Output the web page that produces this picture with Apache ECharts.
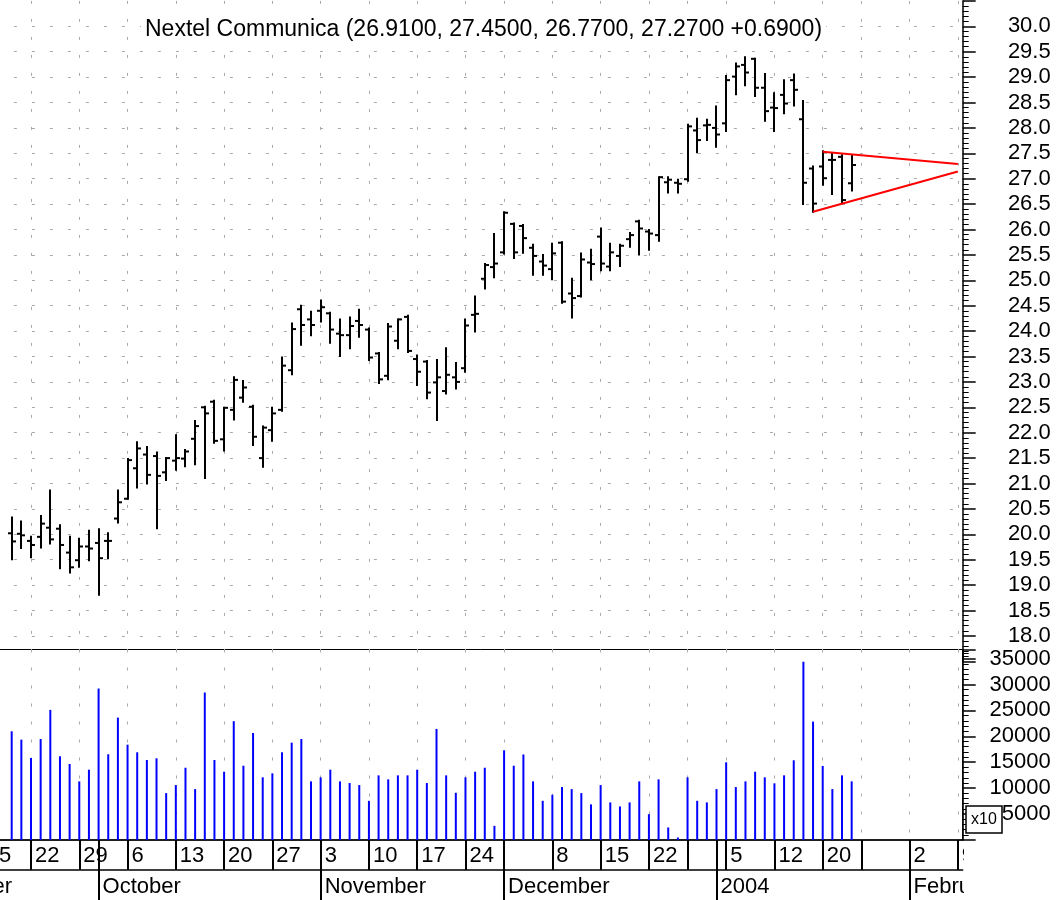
<!DOCTYPE html>
<html>
<head>
<meta charset="utf-8">
<script src="https://cdn.jsdelivr.net/npm/echarts@6/dist/echarts.min.js"></script>
<style>
  html, body { margin: 0; padding: 0; background: #fff; }
  #chart { width: 1061px; height: 900px; }
</style>
</head>
<body>
<div id="chart"></div>
<script>
  // trading days shown on the x axis
  const tradeDays = [
    '2003-09-15', '2003-09-16', '2003-09-17', '2003-09-18', '2003-09-19',
    '2003-09-22', '2003-09-23', '2003-09-24', '2003-09-25', '2003-09-26',
    '2003-09-29', '2003-09-30', '2003-10-01', '2003-10-02', '2003-10-03',
    '2003-10-06', '2003-10-07', '2003-10-08', '2003-10-09', '2003-10-10',
    '2003-10-13', '2003-10-14', '2003-10-15', '2003-10-16', '2003-10-17',
    '2003-10-20', '2003-10-21', '2003-10-22', '2003-10-23', '2003-10-24',
    '2003-10-27', '2003-10-28', '2003-10-29', '2003-10-30', '2003-10-31',
    '2003-11-03', '2003-11-04', '2003-11-05', '2003-11-06', '2003-11-07',
    '2003-11-10', '2003-11-11', '2003-11-12', '2003-11-13', '2003-11-14',
    '2003-11-17', '2003-11-18', '2003-11-19', '2003-11-20', '2003-11-21',
    '2003-11-24', '2003-11-25', '2003-11-26', '2003-11-28',
    '2003-12-01', '2003-12-02', '2003-12-03', '2003-12-04', '2003-12-05',
    '2003-12-08', '2003-12-09', '2003-12-10', '2003-12-11', '2003-12-12',
    '2003-12-15', '2003-12-16', '2003-12-17', '2003-12-18', '2003-12-19',
    '2003-12-22', '2003-12-23', '2003-12-24', '2003-12-26',
    '2003-12-29', '2003-12-30', '2003-12-31', '2004-01-02',
    '2004-01-05', '2004-01-06', '2004-01-07', '2004-01-08', '2004-01-09',
    '2004-01-12', '2004-01-13', '2004-01-14', '2004-01-15', '2004-01-16',
    '2004-01-20', '2004-01-21', '2004-01-22', '2004-01-23',
    '2004-01-26', '2004-01-27', '2004-01-28', '2004-01-29', '2004-01-30',
    '2004-02-02', '2004-02-03', '2004-02-04', '2004-02-05', '2004-02-06',
    '2004-02-09'
  ]
  const firstBar = '2003-09-18'

  // daily bars, Sep 18 2003 .. Jan 23 2004
  const open = [
    20.02, 20.01, 19.87, 19.95, 20.13, 20.11, 19.64, 19.49, 19.76, 19.83,
    19.87, 20.31, 20.70, 21.30, 21.57, 21.54, 21.22, 21.45, 21.49, 21.88,
    22.50, 22.61, 21.87, 22.45, 22.69, 22.51, 21.50, 22.05, 22.45, 23.23,
    24.43, 24.23, 24.40, 24.35, 23.95, 23.92, 24.20, 24.03, 23.56, 23.12,
    23.81, 24.28, 23.45, 23.40, 22.99, 22.82, 23.09, 23.27, 24.32, 25.03,
    25.26, 25.55, 26.11, 26.07, 25.64, 25.37, 25.22, 25.74, 24.74, 24.69,
    25.35, 25.86, 25.27, 25.48, 25.81, 26.16, 25.96, 25.89, 26.93, 26.92,
    26.99, 27.95, 28.05, 28.00, 28.09, 29.01, 29.24, 29.36, 28.79, 28.40,
    28.65, 28.94, 28.17, 27.20, 27.24, 27.37, 27.43, 26.91
  ]
  const high = [
    20.33, 20.25, 19.95, 20.36, 20.86, 20.18, 19.95, 19.91, 20.07, 20.10,
    20.02, 20.86, 21.48, 21.81, 21.72, 21.61, 21.50, 21.95, 21.66, 22.23,
    22.51, 22.63, 22.49, 23.09, 23.02, 22.53, 22.12, 22.49, 23.48, 24.15,
    24.50, 24.38, 24.60, 24.36, 24.23, 24.27, 24.42, 24.05, 23.57, 24.14,
    24.23, 24.30, 23.52, 23.41, 23.43, 23.66, 23.37, 24.23, 24.68, 25.32,
    25.91, 26.34, 26.12, 26.09, 25.70, 25.50, 25.72, 25.75, 25.03, 25.53,
    25.60, 26.02, 25.72, 25.70, 25.93, 26.17, 25.99, 27.03, 27.03, 26.98,
    28.06, 28.18, 28.16, 28.42, 29.02, 29.27, 29.39, 29.36, 29.06, 28.68,
    28.94, 29.05, 28.53, 27.24, 27.54, 27.50, 27.46, 27.45
  ]
  const low = [
    19.51, 19.73, 19.55, 19.74, 19.82, 19.33, 19.25, 19.36, 19.49, 18.81,
    19.53, 20.23, 20.70, 20.92, 21.00, 20.12, 21.07, 21.27, 21.34, 21.38,
    21.11, 21.80, 21.65, 22.26, 22.61, 21.76, 21.33, 21.84, 22.43, 23.15,
    23.73, 23.92, 24.19, 23.77, 23.51, 23.66, 23.89, 23.43, 22.98, 23.05,
    23.66, 23.59, 22.94, 22.68, 22.25, 22.77, 22.87, 23.20, 23.99, 24.84,
    25.06, 25.53, 25.44, 25.54, 25.11, 25.11, 25.02, 24.56, 24.27, 24.68,
    25.02, 25.20, 25.20, 25.28, 25.66, 25.51, 25.60, 25.78, 26.73, 26.73,
    26.96, 27.52, 27.76, 27.63, 27.94, 28.66, 28.84, 28.63, 28.14, 27.94,
    28.29, 28.44, 26.50, 26.35, 26.88, 26.70, 26.53, 26.77
  ]
  const close = [
    19.86, 19.98, 19.79, 20.21, 19.90, 19.79, 19.35, 19.76, 19.72, 19.53,
    19.87, 20.63, 21.46, 21.69, 21.17, 21.15, 21.50, 21.50, 21.63, 22.13,
    22.38, 21.84, 22.49, 23.04, 22.89, 21.92, 22.10, 22.38, 23.32, 24.04,
    24.12, 24.12, 24.47, 24.03, 23.92, 24.10, 24.12, 23.48, 23.05, 24.09,
    24.23, 23.61, 23.20, 22.79, 23.09, 23.14, 23.00, 24.11, 24.34, 25.30,
    25.33, 26.33, 25.55, 25.83, 25.48, 25.29, 25.53, 24.58, 24.65, 25.41,
    25.32, 25.33, 25.55, 25.68, 25.89, 26.02, 25.92, 27.03, 26.98, 26.90,
    28.03, 27.76, 28.06, 27.87, 28.94, 29.21, 29.09, 28.79, 28.33, 28.39,
    28.48, 28.75, 26.92, 26.51, 27.01, 27.37, 26.58, 27.27
  ]
  const volume = [
    20970, 19360, 15820, 19490, 25100, 16150, 14660, 11310, 13560, 29220,
    16540, 23610, 18390, 16920, 15430, 15760, 9050, 10600, 13940, 9820,
    28450, 15430, 13170, 22920, 14330, 20650, 12090, 12860, 16920, 18780,
    19490, 11310, 12090, 13560, 11310, 10990, 10600, 7560, 12470, 11700,
    12470, 12470, 13560, 10990, 21430, 12470, 9110, 12090, 13170, 13940,
    2730, 17310, 14330, 16500, 11310, 7560, 8720, 10210, 9820, 9050,
    6870, 10600, 7250, 6480, 7250, 11310, 4990, 11700, 2420, 480,
    12090, 7560, 7250, 9820, 14990, 10210, 11310, 13170, 12090, 10930,
    12470, 15380, 34390, 22840, 14270, 9820, 12470, 11310
  ]

  // triangle drawn on the chart
  const upperLine = [['2004-01-20', 27.53], ['2004-02-09', 27.29]]
  const lowerLine = [['2004-01-16', 26.35], ['2004-02-09', 27.14]]

  // axis labels
  const weekStarts = ['2003-09-15', '2003-09-22', '2003-09-29', '2003-10-06', '2003-10-13',
    '2003-10-20', '2003-10-27', '2003-11-03', '2003-11-10', '2003-11-17', '2003-11-24',
    '2003-12-01', '2003-12-08', '2003-12-15', '2003-12-22', '2003-12-29', '2004-01-05',
    '2004-01-12', '2004-01-20', '2004-01-26', '2004-02-02', '2004-02-09']
  const weekLabels = ['15', '22', '29', '6', '13', '20', '27', '3', '10', '17', '24',
    '', '8', '15', '22', '', '5', '12', '20', '', '2', '9']
  const monthStarts = ['2003-10-01', '2003-11-03', '2003-12-01', '2004-01-02', '2004-02-02']
  const monthLabels = ['October', 'November', 'December', '2004', 'February']

  const font = 'Liberation Sans, Arial, sans-serif'
  const gridGray = '#a9a9a9'
  const offset = tradeDays.indexOf(firstBar)

  const ohlcData = open.map((o, k) => [k + offset, o, high[k], low[k], close[k]])
  const volData = tradeDays.map((d, k) => {
    const v = volume[k - offset]
    return v === undefined ? '-' : v
  })

  const isWeek = (i, v) => weekStarts.indexOf(v) >= 0
  const isWeekOrMonth = (i, v) => weekStarts.indexOf(v) >= 0 || monthStarts.indexOf(v) >= 0

  function renderOhlc (params, api) {
    const x = Math.round(api.coord([api.value(0), api.value(1)])[0])
    const yo = api.coord([api.value(0), api.value(1)])[1]
    const yh = api.coord([api.value(0), api.value(2)])[1]
    const yl = api.coord([api.value(0), api.value(3)])[1]
    const yc = api.coord([api.value(0), api.value(4)])[1]
    const st = { stroke: '#000', lineWidth: 2 }
    return {
      type: 'group',
      children: [
        { type: 'line', shape: { x1: x, y1: yh - 1, x2: x, y2: yl + 1 }, style: st },
        { type: 'line', shape: { x1: x - 4, y1: yo, x2: x, y2: yo }, style: st },
        { type: 'line', shape: { x1: x, y1: yc, x2: x + 4, y2: yc }, style: st }
      ]
    }
  }

  const chart = echarts.init(document.getElementById('chart'))
  const option = {
    animation: false,
    backgroundColor: '#fff',
    title: {
      text: 'Nextel Communica (26.9100, 27.4500, 26.7700, 27.2700 +0.6900)',
      left: 141,
      top: 17,
      padding: [1, 4],
      backgroundColor: '#fff',
      textStyle: { fontSize: 23, fontWeight: 'normal', color: '#000', fontFamily: font }
    },
    grid: [
      { left: -22.1, width: 984.8, top: 0.9, height: 660.4, outerBoundsMode: 'none', containLabel: false },
      {
        left: -22.1, width: 984.8, top: 649.5, height: 190.5, outerBoundsMode: 'none', containLabel: false,
        show: true, borderColor: '#000', borderWidth: 1
      }
    ],
    xAxis: [
      {
        type: 'category', gridIndex: 0, data: tradeDays, boundaryGap: true,
        axisLine: { show: false }, axisTick: { show: false }, axisLabel: { show: false },
        splitLine: { show: true, interval: isWeek, alignWithLabel: true, lineStyle: { color: gridGray, width: 1, type: [3, 15] } }
      },
      {
        type: 'category', gridIndex: 1, data: tradeDays, boundaryGap: true,
        axisLine: { show: true, lineStyle: { color: '#000', width: 1.5 } },
        axisTick: { show: true, interval: isWeekOrMonth, alignWithLabel: true, length: 30, lineStyle: { color: '#000', width: 2 } },
        axisLabel: {
          interval: (i, v) => { const k = weekStarts.indexOf(v); return k >= 0 && weekLabels[k] !== '' },
          formatter: v => weekLabels[weekStarts.indexOf(v)] || '',
          align: 'left', padding: [0, 0, 0, 4], margin: 5,
          fontSize: 22, color: '#000', fontFamily: font
        },
        splitLine: { show: true, interval: isWeek, alignWithLabel: true, lineStyle: { color: gridGray, width: 1, type: [3, 15] } }
      },
      {
        type: 'category', gridIndex: 1, data: tradeDays, boundaryGap: true, position: 'bottom', offset: 30,
        axisLine: { show: true, lineStyle: { color: '#000', width: 1.5 } },
        axisTick: { show: true, interval: (i, v) => monthStarts.indexOf(v) >= 0, alignWithLabel: true, length: 30, lineStyle: { color: '#000', width: 2 } },
        axisLabel: {
          interval: (i, v) => monthStarts.indexOf(v) >= 0,
          formatter: v => monthLabels[monthStarts.indexOf(v)] || '',
          align: 'left', padding: [0, 0, 0, 4], margin: 6,
          fontSize: 22, color: '#000', fontFamily: font
        },
        splitLine: { show: false }
      }
    ],
    yAxis: [
      {
        type: 'value', gridIndex: 0, position: 'right', min: 17.5, max: 30.5, interval: 0.5,
        axisLine: { show: true, lineStyle: { color: '#000', width: 1.5 } },
        axisTick: { show: true, length: 13, lineStyle: { color: '#000', width: 1.5 } },
        minorTick: { show: true, splitNumber: 5, length: 6, lineStyle: { color: '#000', width: 1 } },
        axisLabel: {
          showMinLabel: false, showMaxLabel: false,
          formatter: v => v.toFixed(1),
          align: 'right', margin: 88, fontSize: 22, color: '#000', fontFamily: font
        },
        splitLine: { show: true, showMinLine: false, showMaxLine: false, lineStyle: { color: gridGray, width: 1, type: [3, 15] } }
      },
      {
        type: 'value', gridIndex: 1, position: 'right', min: 0, max: 36750, interval: 5000,
        axisLine: { show: true, lineStyle: { color: '#000', width: 1.5 } },
        axisTick: { show: true, length: 13, lineStyle: { color: '#000', width: 1.5 } },
        minorTick: { show: true, splitNumber: 5, length: 6, lineStyle: { color: '#000', width: 1 } },
        axisLabel: {
          showMinLabel: false, showMaxLabel: false,
          formatter: v => (v > 0 && v % 5000 === 0 ? String(v) : ''),
          align: 'right', margin: 88, fontSize: 22, color: '#000', fontFamily: font
        },
        splitLine: { show: false }
      }
    ],
    series: [
      {
        name: 'Price', type: 'custom', xAxisIndex: 0, yAxisIndex: 0,
        renderItem: renderOhlc, encode: { x: 0, y: [1, 2, 3, 4] },
        data: ohlcData, z: 3
      },
      {
        name: 'Volume', type: 'bar', xAxisIndex: 1, yAxisIndex: 1,
        barWidth: 2, itemStyle: { color: '#0000ff' }, data: volData
      },
      {
        name: 'Upper', type: 'line', xAxisIndex: 0, yAxisIndex: 0, data: upperLine,
        symbol: 'none', lineStyle: { color: '#ff0000', width: 2 }, z: 5
      },
      {
        name: 'Lower', type: 'line', xAxisIndex: 0, yAxisIndex: 0, data: lowerLine,
        symbol: 'none', lineStyle: { color: '#ff0000', width: 2 }, z: 5
      }
    ],
    graphic: [
      { type: 'rect', z: 100, shape: { x: 964, y: 841, width: 100, height: 60 }, style: { fill: '#fff' } },
      {
        type: 'text', z: 100,
        style: { text: 'September', x: 12, y: 887, textAlign: 'right', textVerticalAlign: 'middle', fontSize: 22, fontFamily: font, fill: '#000' }
      },
      { type: 'rect', z: 100, shape: { x: 966, y: 806, width: 36, height: 27 }, style: { fill: '#fff', stroke: '#000', lineWidth: 1.5 } },
      {
        type: 'text', z: 101,
        style: { text: 'x10', x: 984, y: 820, textAlign: 'center', textVerticalAlign: 'middle', fontSize: 16, fontFamily: font, fill: '#000' }
      }
    ]
  }
  chart.setOption(option)
</script>
</body>
</html>
